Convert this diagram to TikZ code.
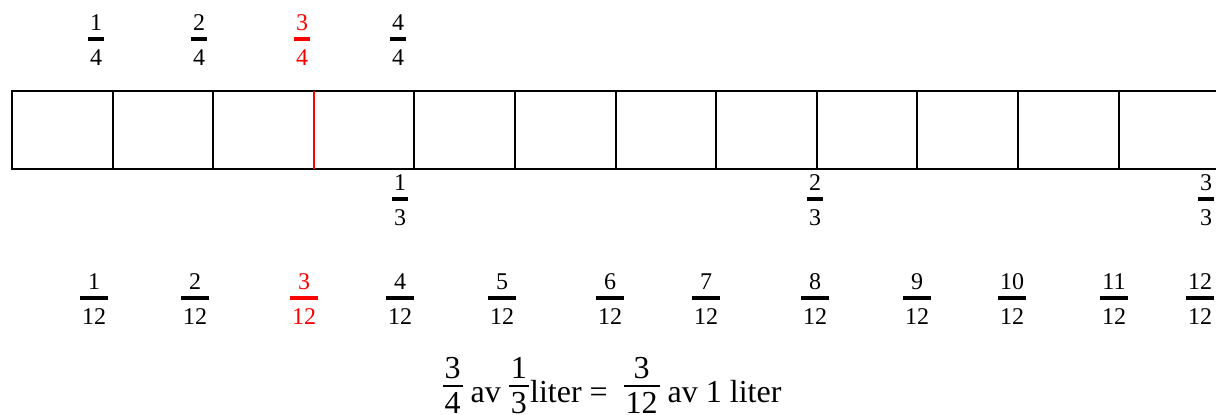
\documentclass[tikz,border=0pt]{standalone}
\usepackage{fontspec}
\setmainfont{Liberation Serif}
\usetikzlibrary{positioning}

% stacked fraction: num, den, half bar, skip to bar, skip to den
\newcommand{\stk}[5]{\begin{tabular}[t]{@{}c@{}}\kern1.5pt#1\kern1.5pt\\[#4]%
  \leaders\hrule height #3 depth #3\hfill\kern0pt\\[#5]\kern1.5pt#2\kern1.5pt\end{tabular}}
\newcommand{\lfrac}[2]{\stk{#1}{#2}{1.3pt}{-15.25pt}{-1.9pt}}
\newcommand{\eqfrac}[2]{\raisebox{18pt}{\stk{#1}{#2}{0.75pt}{-22pt}{-7.75pt}}}

\begin{document}
\begin{tikzpicture}[x=0.75pt,y=-0.75pt,
  bar/.style={line width=1.5pt},
  lab/.style={inner sep=0pt,anchor=base,font=\fontsize{18}{22}\selectfont},
  hit/.style={red}]
  \useasboundingbox (0,0) rectangle (1216,414);
  % the litre bar, cut at the right edge
  \draw[bar] (1216,91) -- (12,91) -- (12,169) -- (1216,169);
  \foreach \i in {1,2,4,5,6,7,8,9,10,11}
    \draw[bar] ({12+100.6*\i},91) -- ({12+100.6*\i},169);
  \draw[bar,red] ({12+100.6*3},91) -- ({12+100.6*3},169);

  % quarters of 1/3 litre
  \node[lab] (q1) at (96,30) {\lfrac{1}{4}};
  \node[lab] (q2) at (199,30) {\lfrac{2}{4}};
  \node[lab,hit] (q3) at (302,30) {\lfrac{3}{4}};
  \node[lab] (q4) at (398,30) {\lfrac{4}{4}};

  % thirds
  \node[lab] (t1) at (400,190) {\lfrac{1}{3}};
  \node[lab] (t2) at (815,190) {\lfrac{2}{3}};
  \node[lab] (t3) at (1206,190) {\lfrac{3}{3}};

  % twelfths
  \foreach \n/\x in {1/94,2/195,4/400,5/502,6/610,7/706,8/815,9/917,10/1012,11/1114,12/1200}
    \node[lab] (w\n) at (\x,289) {\lfrac{\n}{12}};
  \node[lab,hit] (w3) at (304,289) {\lfrac{3}{12}};

  \node[inner sep=0pt,anchor=base,font=\fontsize{24}{28}\selectfont] (eq) at (612,402)
    {\eqfrac{3}{4} av \eqfrac{1}{3}\kern1pt liter = \ \eqfrac{3}{12} av 1 liter};
\end{tikzpicture}
\end{document}
